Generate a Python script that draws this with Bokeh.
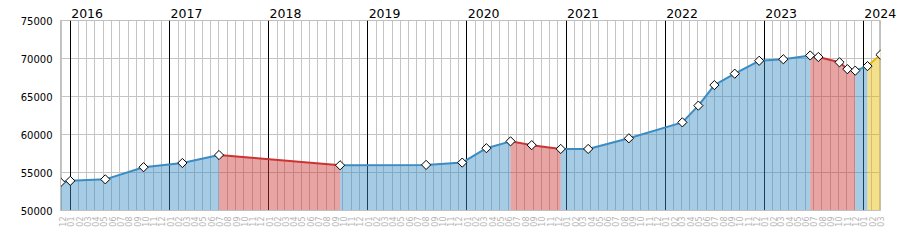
import math
import pandas as pd
from bokeh.plotting import figure
from bokeh.models import (Range1d, FixedTicker, DatetimeTickFormatter, DatetimeAxis,
                          Grid, NumeralTickFormatter)
from bokeh.embed import file_html
from bokeh.resources import INLINE

# ---------------- data ----------------
dates = ["2015-11-26", "2016-01-01", "2016-05-09", "2016-09-27", "2017-02-17",
         "2017-07-02", "2018-09-21", "2019-08-04", "2019-12-15", "2020-03-13",
         "2020-06-10", "2020-08-27", "2020-12-12", "2021-03-23", "2021-08-20",
         "2022-03-05", "2022-05-03", "2022-07-01", "2022-09-14", "2022-12-13",
         "2023-03-12", "2023-06-19", "2023-07-19", "2023-10-05", "2023-11-03",
         "2023-12-02", "2024-01-16", "2024-03-04"]
values = [53700, 53900, 54100, 55700, 56250,
          57300, 55950, 56000, 56300, 58200,
          59100, 58600, 58100, 58100, 59500,
          61600, 63800, 66500, 68000, 69700,
          69900, 70400, 70200, 69500, 68600,
          68400, 69000, 70500]
provisional_from = "2024-01-16"   # last segment (yellow)

month_starts = pd.date_range("2015-12-01", "2024-03-01", freq="MS")
year_starts = pd.date_range("2016-01-01", "2024-01-01", freq="YS")
y_ticks = [50000, 55000, 60000, 65000, 70000, 75000]

colors = {"up": "#3a8cc4", "down": "#cc3333", "prov": "#e6b800"}

# ---------------- helpers ----------------
x = pd.to_datetime(dates)
prov_ts = pd.Timestamp(provisional_from)


def ms(ts):
    return int(pd.Timestamp(ts).value // 10**6)


status = []
for i in range(len(values) - 1):
    if x[i] >= prov_ts:
        status.append("prov")
    elif values[i + 1] < values[i]:
        status.append("down")
    else:
        status.append("up")

runs = []
start = 0
for i in range(1, len(status) + 1):
    if i == len(status) or status[i] != status[start]:
        runs.append((start, i, status[start]))
        start = i

y_min = y_ticks[0]
y_max = y_ticks[-1]

p = figure(width=900, height=250, x_axis_type="datetime",
           x_range=Range1d(x[0], x[-1]), y_range=Range1d(y_min, y_max),
           output_backend="svg", toolbar_location=None,
           min_border_left=60, min_border_right=20, min_border_top=20, min_border_bottom=40)
p.background_fill_color = "white"
p.border_fill_color = "white"
p.outline_line_color = "#c0c0c0"

# grids
p.xgrid.ticker = FixedTicker(ticks=[ms(t) for t in month_starts])
p.xgrid.grid_line_color = "#c4c4c4"
p.ygrid.ticker = FixedTicker(ticks=y_ticks)
p.ygrid.grid_line_color = "#c4c4c4"
year_grid = Grid(dimension=0, ticker=FixedTicker(ticks=[ms(t) for t in year_starts]),
                 grid_line_color="black", grid_line_width=1)
p.add_layout(year_grid)

# areas
for a, b, s in runs:
    p.varea(x=x[a:b + 1], y1=y_min, y2=values[a:b + 1],
            fill_color=colors[s], fill_alpha=0.45)
# lines
for a, b, s in runs:
    p.line(x=x[a:b + 1], y=values[a:b + 1], line_color=colors[s], line_width=2,
           line_join="round")
# markers
p.scatter(x=x, y=values, marker="square", angle=math.pi / 4, size=6.5,
          fill_color="white", line_color="black", line_width=1)

# y axis
yax = p.yaxis[0]
yax.ticker = FixedTicker(ticks=y_ticks)
yax.formatter = NumeralTickFormatter(format="0")
yax.axis_line_color = "#c0c0c0"
yax.major_tick_line_color = None
yax.minor_tick_line_color = None
yax.major_tick_out = 0
yax.major_label_standoff = 8
yax.major_label_text_font = "DejaVu Sans"
yax.major_label_text_font_size = "10px"
yax.major_label_text_color = "black"

# bottom axis: month numbers
xax = p.xaxis[0]
xax.ticker = FixedTicker(ticks=[ms(t + pd.Timedelta(days=2)) for t in month_starts])
xax.formatter = DatetimeTickFormatter(days="%m", months="%m", years="%m")
xax.major_label_orientation = math.pi / 2
xax.axis_line_color = "#c0c0c0"
xax.major_tick_line_color = None
xax.minor_tick_line_color = None
xax.major_tick_out = 0
xax.major_label_standoff = 6
xax.major_label_text_font = "DejaVu Sans"
xax.major_label_text_font_size = "8px"
xax.major_label_text_color = "#b4b4b4"

# top axis: years
top = DatetimeAxis(ticker=FixedTicker(ticks=[ms(t + pd.Timedelta(days=62)) for t in year_starts]),
                   formatter=DatetimeTickFormatter(days="%Y", months="%Y", years="%Y"))
top.axis_line_color = None
top.major_tick_line_color = None
top.minor_tick_line_color = None
top.major_tick_out = 0
top.major_label_standoff = 3
top.major_label_text_font = "DejaVu Sans"
top.major_label_text_font_size = "12.5px"
top.major_label_text_color = "black"
p.add_layout(top, "above")

open("out.html", "w").write(file_html(p, INLINE))
